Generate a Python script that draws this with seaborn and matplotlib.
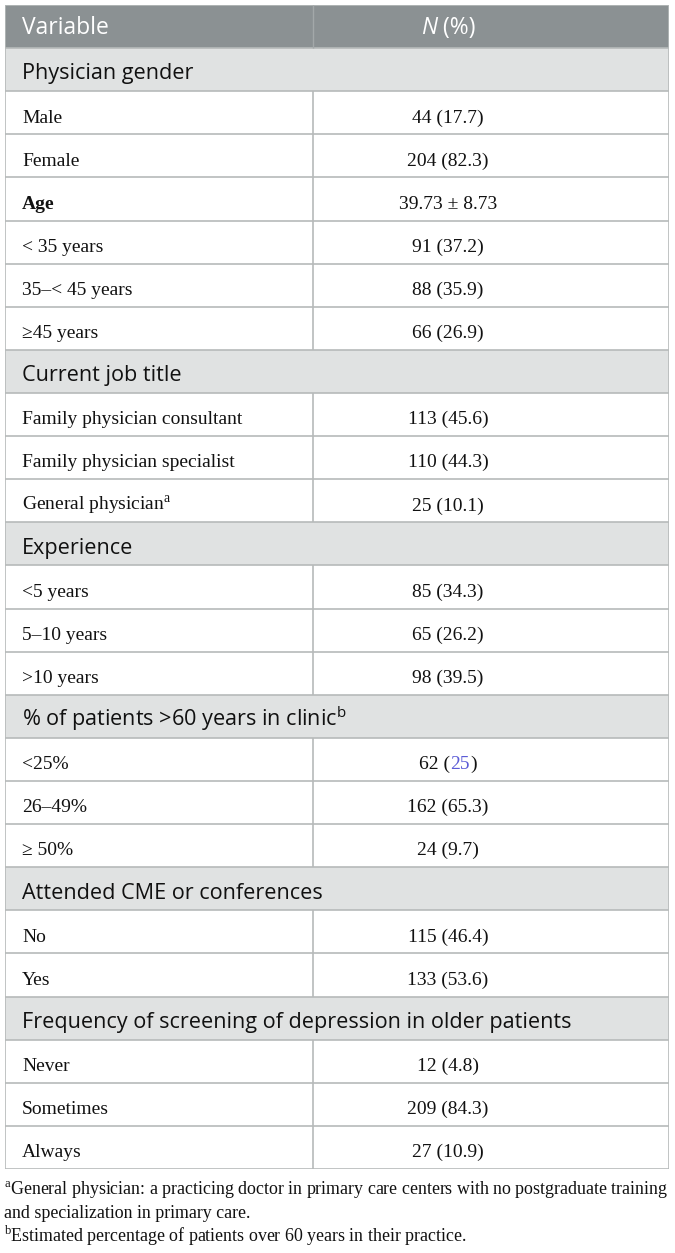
import numpy as np
import matplotlib
matplotlib.use("Agg")
import matplotlib.pyplot as plt
import seaborn as sns
from matplotlib.colors import ListedColormap

# ---------------- data ----------------
header_labels = ["Variable", "N (%)"]

variables = [
    "Physician gender", "Male", "Female", "Age", "< 35 years", "35\u2013< 45 years", "\u226545 years",
    "Current job title", "Family physician consultant", "Family physician specialist",
    "General physician$^{\\mathregular{a}}$",
    "Experience", "<5 years", "5\u201310 years", ">10 years",
    "% of patients >60 years in clinic$^{\\mathregular{b}}$", "<25%", "26\u201349%", "\u2265 50%",
    "Attended CME or conferences", "No", "Yes",
    "Frequency of screening of depression in older patients", "Never", "Sometimes", "Always",
]
values = [
    "", "44 (17.7)", "204 (82.3)", "39.73 \u00b1 8.73", "91 (37.2)", "88 (35.9)", "66 (26.9)",
    "", "113 (45.6)", "110 (44.3)", "25 (10.1)",
    "", "85 (34.3)", "65 (26.2)", "98 (39.5)",
    "", "62 (25)", "162 (65.3)", "24 (9.7)",
    "", "115 (46.4)", "133 (53.6)",
    "", "12 (4.8)", "209 (84.3)", "27 (10.9)",
]
# 1 = section row, 2 = data row, 3 = bold data row
row_kind = [1, 2, 2, 3, 2, 2, 2,
            1, 2, 2, 2,
            1, 2, 2, 2,
            1, 2, 2, 2,
            1, 2, 2,
            1, 2, 2, 2]

footnotes = [
    "$^{\\mathregular{a}}$General physician: a practicing doctor in primary care centers with no postgraduate training",
    "and specialization in primary care.",
    "$^{\\mathregular{b}}$Estimated percentage of patients over 60 years in their practice.",
]

# ---------------- style ----------------
sns.set_theme(style="white")
SANS = ["Open Sans", "DejaVu Sans"]
SERIF = ["Liberation Serif", "DejaVu Serif"]
plt.rcParams["font.family"] = SANS

HEAD_C = "#8b9193"
SEC_C = "#e0e2e2"
LINE_C = "#b6baba"
BLUE = "#5b5bd6"
TXT = "#111111"

FS_HEAD = 16.5
FS_SEC = 15.6
FS_DATA = 14
FS_FOOT = 12.9

W, H = 675, 1253
fig = plt.figure(figsize=(W / 100, H / 100), dpi=100)
L, R, T, B = 5, 669, 5, 1169
ax = fig.add_axes([L / W, 1 - B / H, (R - L) / W, (B - T) / H])

codes = np.array([0] + [min(k, 2) for k in row_kind]).reshape(-1, 1)
sns.heatmap(codes, cmap=ListedColormap([HEAD_C, SEC_C, "#ffffff"]), vmin=-0.5, vmax=2.5,
            cbar=False, xticklabels=False, yticklabels=False, ax=ax)
ax.set_xlim(0, 1)
nrows = len(codes)
ax.set_ylim(nrows, 0)
row_px = (B - T) / nrows

xdiv = (313 - L) / (R - L)
xlab = (22 - L) / (R - L)
xval = (448 - L) / (R - L)

# baseline offsets (in row units)
base_head = 28.5 / row_px
base_body = 31.3 / row_px

# lines
for i in range(nrows + 1):
    ax.hlines(i, 0, 1, color=LINE_C, lw=1.2, zorder=3)
ax.vlines([0, 1], 0, nrows, color=LINE_C, lw=1.2, zorder=3)
ax.vlines(xdiv, 0, 1, color="#a3a8a9", lw=1.0, zorder=3)
for i, k in enumerate(row_kind):
    if k != 1:
        ax.vlines(xdiv, i + 1, i + 2, color=LINE_C, lw=1.2, zorder=3)

renderer = fig.canvas.get_renderer()
axw = ax.bbox.width


def width_of(txt, **kw):
    t = ax.text(0, 0, txt, **kw)
    w = t.get_window_extent(renderer).width / axw
    t.remove()
    return w


# header text
ax.text(xlab, base_head, header_labels[0], color="white", fontsize=FS_HEAD, family=SANS,
        ha="left", va="baseline")
hdr_n, hdr_rest = header_labels[1][0], header_labels[1][1:]
wn = width_of(hdr_n, fontsize=FS_HEAD, family=SANS, style="italic")
wr = width_of(hdr_rest, fontsize=FS_HEAD, family=SANS)
x0 = xval - (wn + wr) / 2
ax.text(x0, base_head, hdr_n, color="white", fontsize=FS_HEAD, family=SANS, style="italic",
        ha="left", va="baseline")
ax.text(x0 + wn, base_head, hdr_rest, color="white", fontsize=FS_HEAD, family=SANS,
        ha="left", va="baseline")

# body
for i, (var, val, k) in enumerate(zip(variables, values, row_kind)):
    yb = i + 1 + base_body
    if k == 1:
        ax.text(xlab, yb, var, color=TXT, fontsize=FS_SEC, family=SANS,
                ha="left", va="baseline")
        continue
    ax.text(xlab, yb, var, color=TXT, fontsize=FS_DATA, family=SERIF,
            fontweight="bold" if k == 3 else "normal", ha="left", va="baseline")
    if val == "62 (25)":
        parts = [("62 (", TXT), ("25", BLUE), (")", TXT)]
        ws = [width_of(p, fontsize=FS_DATA, family=SERIF) for p, _ in parts]
        xs = xval - sum(ws) / 2
        for (p, c), w in zip(parts, ws):
            ax.text(xs, yb, p, color=c, fontsize=FS_DATA, family=SERIF, ha="left", va="baseline")
            xs += w
    else:
        ax.text(xval, yb, val, color=TXT, fontsize=FS_DATA, family=SERIF,
                ha="center", va="baseline")

# footnotes
foot_y = [1195, 1218.5, 1242]
for txt, y in zip(footnotes, foot_y):
    fig.text(4 / W, 1 - y / H, txt, color=TXT, fontsize=FS_FOOT, family=SERIF,
             ha="left", va="baseline")

fig.savefig("out.png", dpi=100)
